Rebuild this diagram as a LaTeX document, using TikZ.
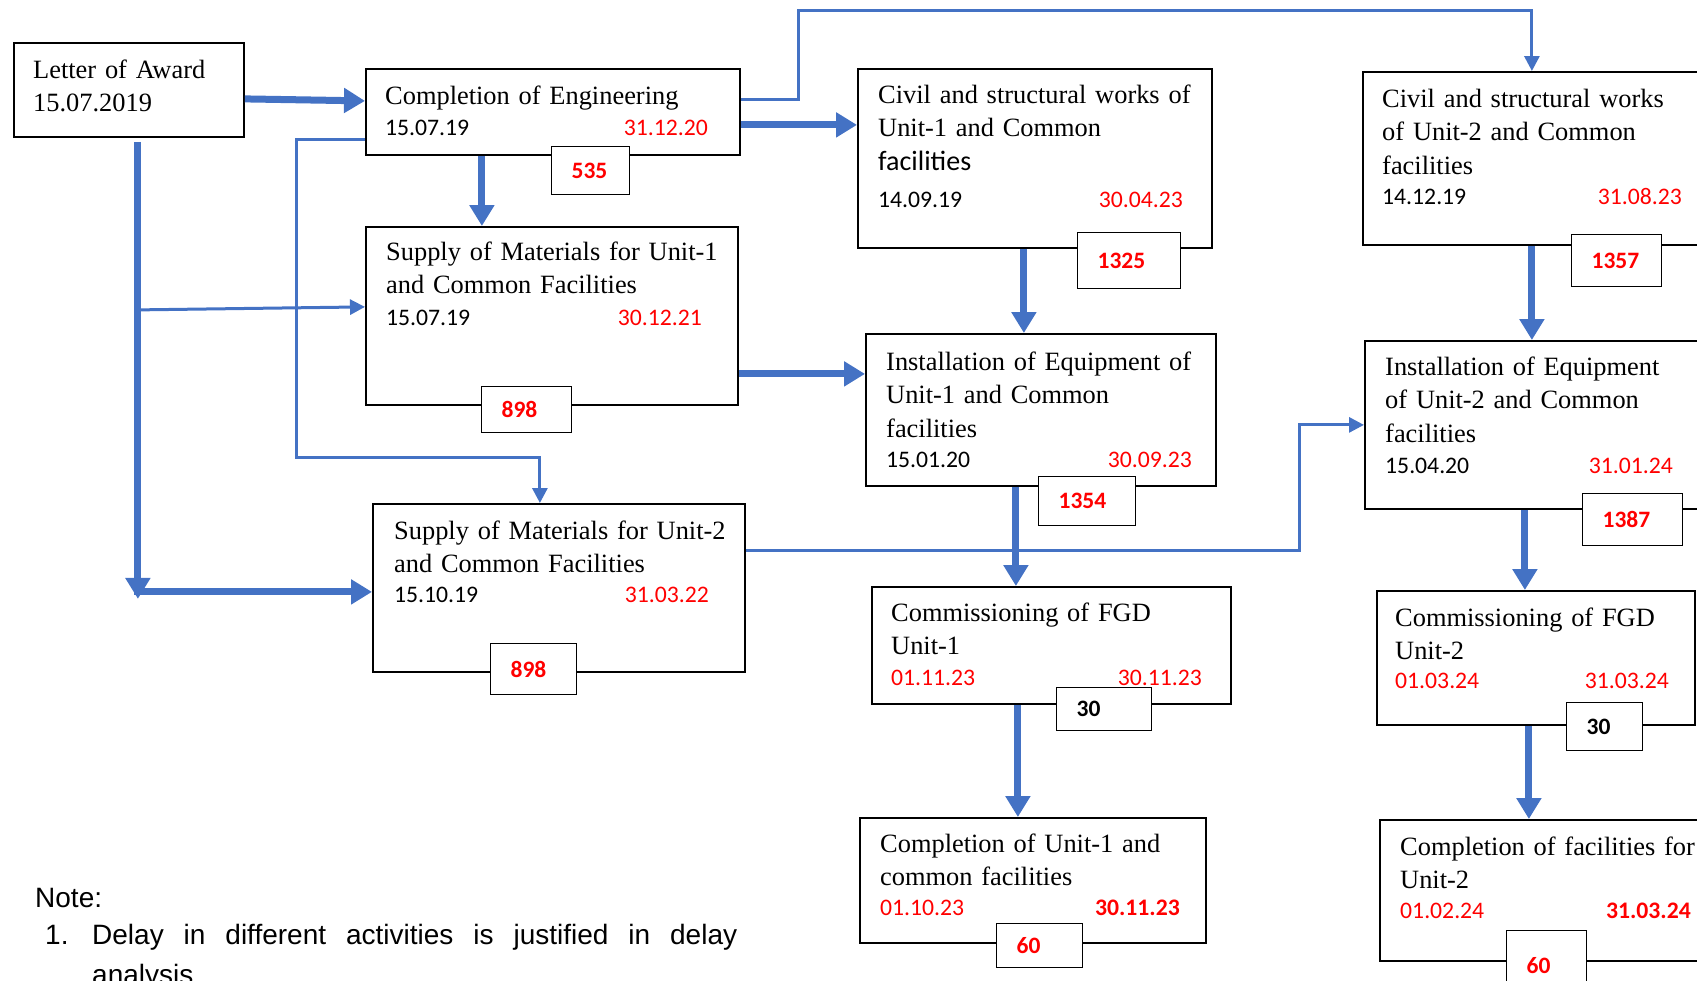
\documentclass[tikz,border=0pt]{standalone}
\usepackage{fontspec}
\setmainfont{Liberation Serif}
\newfontfamily\carl{Carlito}
\newfontfamily\arialf{Liberation Sans}
\usetikzlibrary{arrows.meta}
\definecolor{flow}{HTML}{4472C4}

\begin{document}
\begin{tikzpicture}[x=1pt,y=-1pt,
        box/.style={draw,line width=1.8pt,anchor=north west,inner sep=0pt},
        num/.style={draw,fill=white,line width=1.2pt,anchor=north west,inner xsep=20pt,
            inner ysep=0pt,align=left,text=red,font=\carl\bfseries\fontsize{23.5}{24}\selectfont},
        ttl/.style={anchor=base west,inner sep=0pt,align=left,text width=420,
            font=\fontsize{26.4}{33.5}\selectfont},
        dat/.style={inner sep=0pt,font=\carl\fontsize{23.7}{24}\selectfont},
        note/.style={anchor=base west,inner sep=0pt,font=\arialf\fontsize{28}{36}\selectfont},
        big/.style={flow,line width=7pt,-{Triangle[length=21pt,width=24pt]}},
        link/.style={flow,line width=3pt,-{Triangle[length=15pt,width=15pt]}}]
    \useasboundingbox (0,0) rectangle (1697,980);
    \clip (0,0) rectangle (1697,980);

    % activity boxes
    \node[box,minimum width=230,minimum height=94] (loa) at (13,42) {};
    \node[box,minimum width=374,minimum height=86] (eng) at (365,68) {};
    \node[box,minimum width=372,minimum height=178] (sup1) at (365,226) {};
    \node[box,minimum width=372,minimum height=168] (sup2) at (372,503) {};
    \node[box,minimum width=354,minimum height=179] (civ1) at (857,68) {};
    \node[box,minimum width=360,minimum height=173] (civ2) at (1362,71) {};
    \node[box,minimum width=350,minimum height=152] (ins1) at (865,333) {};
    \node[box,minimum width=360,minimum height=168] (ins2) at (1364,340) {};
    \node[box,minimum width=359,minimum height=117] (com1) at (871,586) {};
    \node[box,minimum width=318,minimum height=134] (com2) at (1376,590) {};
    \node[box,minimum width=346,minimum height=125] (fin1) at (859,817) {};
    \node[box,minimum width=360,minimum height=141] (fin2) at (1379,819) {};

    \node[ttl,text width=200] (loa-t) at (33,78) {Letter of Award\\15.07.2019};

    \node[ttl] (eng-t) at (385,104) {Completion of Engineering};
    \node[dat,anchor=base west] (eng-s) at (385,135) {15.07.19};
    \node[dat,anchor=base east,text=red] (eng-f) at (708,135) {31.12.20};

    \node[ttl] (sup1-t) at (386,260) {Supply of Materials for Unit-1\\and Common Facilities};
    \node[dat,anchor=base west] (sup1-s) at (386,325) {15.07.19};
    \node[dat,anchor=base east,text=red] (sup1-f) at (702,325) {30.12.21};

    \node[ttl] (sup2-t) at (394,539) {Supply of Materials for Unit-2\\and Common Facilities};
    \node[dat,anchor=base west] (sup2-s) at (394,602) {15.10.19};
    \node[dat,anchor=base east,text=red] (sup2-f) at (709,602) {31.03.22};

    \node[ttl] (civ1-t) at (878,103) {Civil and structural works of\\Unit-1 and Common\\{\carl\fontsize{28}{33.5}\selectfont facilities}};
    \node[dat,anchor=base west] (civ1-s) at (878,207) {14.09.19};
    \node[dat,anchor=base east,text=red] (civ1-f) at (1183,207) {30.04.23};

    \node[ttl] (civ2-t) at (1382,107) {Civil and structural works\\of Unit-2 and Common\\facilities};
    \node[dat,anchor=base west] (civ2-s) at (1382,204) {14.12.19};
    \node[dat,anchor=base east,text=red] (civ2-f) at (1682,204) {31.08.23};

    \node[ttl] (ins1-t) at (886,370) {Installation of Equipment of\\Unit-1 and Common\\facilities};
    \node[dat,anchor=base west] (ins1-s) at (886,467) {15.01.20};
    \node[dat,anchor=base east,text=red] (ins1-f) at (1192,467) {30.09.23};

    \node[ttl] (ins2-t) at (1385,375) {Installation of Equipment\\of Unit-2 and Common\\facilities};
    \node[dat,anchor=base west] (ins2-s) at (1385,473) {15.04.20};
    \node[dat,anchor=base east,text=red] (ins2-f) at (1673,473) {31.01.24};

    \node[ttl] (com1-t) at (891,621) {Commissioning of FGD\\Unit-1};
    \node[dat,anchor=base west,text=red] (com1-s) at (891,685) {01.11.23};
    \node[dat,anchor=base east,text=red] (com1-f) at (1202,685) {30.11.23};

    \node[ttl] (com2-t) at (1395,626) {Commissioning of FGD\\Unit-2};
    \node[dat,anchor=base west,text=red] (com2-s) at (1395,688) {01.03.24};
    \node[dat,anchor=base east,text=red] (com2-f) at (1669,688) {31.03.24};

    \node[ttl] (fin1-t) at (880,852) {Completion of Unit-1 and\\common facilities};
    \node[dat,anchor=base west,text=red] (fin1-s) at (880,915) {01.10.23};
    \node[dat,anchor=base east,text=red,font=\carl\bfseries\fontsize{23.7}{24}\selectfont] (fin1-f) at (1180,915) {30.11.23};

    \node[ttl] (fin2-t) at (1400,855) {Completion of facilities for\\Unit-2};
    \node[dat,anchor=base west,text=red] (fin2-s) at (1400,918) {01.02.24};
    \node[dat,anchor=base east,text=red,font=\carl\bfseries\fontsize{23.7}{24}\selectfont] (fin2-f) at (1691,918) {31.03.24};

    % connectors
    \coordinate (trunk) at ([xshift=9pt]loa.south);
    \coordinate (s2in) at ([xshift=-19pt]sup2.north);
    \draw[big] ([yshift=-9pt]loa.east) -- ([yshift=11pt]eng.west);
    \draw[big] ([yshift=-13pt]eng.east) -- ([yshift=-13pt]eng.east -| civ1.west);
    \draw[big] ([xshift=-71pt]eng.south) -- ([xshift=-71pt]eng.south |- sup1.north);
    \draw[big] ([yshift=-4pt]trunk) -- ([yshift=-11pt]trunk |- sup2.west);
    \draw[big] ([xshift=-4pt,yshift=-4pt]trunk |- sup2.west) -- ([yshift=-4pt]sup2.west);
    \draw[link] ([yshift=6pt]sup1.west -| trunk) -- ([yshift=9pt]sup1.west);
    \draw[link] ([yshift=-28pt]eng.west) -- ++(-69,0) |- ([yshift=46pt]s2in) -- (s2in);
    \draw[link] ([yshift=12pt]eng.east) -- ++(58,0) |- ([xshift=-11pt,yshift=61pt]civ2.north)
        -- ([xshift=-11pt]civ2.north);
    \draw[link] ([yshift=37pt]sup2.east) -- ++(554,0) |- (ins2.west);
    \draw[big] ([yshift=-58pt]sup1.east) -- ([yshift=-58pt]sup1.east -| ins1.west);
    \draw[big] ([xshift=-11pt]civ1.south) -- ([xshift=-11pt]civ1.south |- ins1.north);
    \draw[big] ([xshift=-25pt]ins1.south) -- ([xshift=-25pt]ins1.south |- com1.north);
    \draw[big] ([xshift=-33.5pt]com1.south) -- ([xshift=-33.5pt]com1.south |- fin1.north);
    \draw[big] ([xshift=-11pt]civ2.south) -- ([xshift=-11pt]civ2.south |- ins2.north);
    \draw[big] ([xshift=-20pt]ins2.south) -- ([xshift=-20pt]ins2.south |- com2.north);
    \draw[big] ([xshift=-7pt]com2.south) -- ([xshift=-7pt]com2.south |- fin2.north);

    % durations
    \node[num,text width=38,minimum height=48] (eng-d) at (551,146) {535};
    \node[num,text width=50,minimum height=46] (sup1-d) at (481,386) {898};
    \node[num,text width=46,minimum height=51] (sup2-d) at (490,643) {898};
    \node[num,text width=63,minimum height=56] (civ1-d) at (1077,232) {1325};
    \node[num,text width=50,minimum height=52] (civ2-d) at (1571,234) {1357};
    \node[num,text width=57,minimum height=49] (ins1-d) at (1038,476) {1354};
    \node[num,text width=60,minimum height=52] (ins2-d) at (1582,493) {1387};
    \node[num,text width=55,minimum height=43,text=black] (com1-d) at (1056,687) {30};
    \node[num,text width=36,minimum height=48,text=black] (com2-d) at (1566,702) {30};
    \node[num,text width=46,minimum height=44] (fin1-d) at (996,923) {60};
    \node[num,text width=40,minimum height=70] (fin2-d) at (1506,930) {60};

    \node[note] (note) at (35,907) {Note:};
    \node[note] (note-n) at (45,944) {1.};
    \node[note] (note-a) at (92,944) {\makebox[645pt][s]{Delay in different activities is justified in delay}};
    \node[note] (note-b) at (92,984) {analysis};
\end{tikzpicture}
\end{document}
